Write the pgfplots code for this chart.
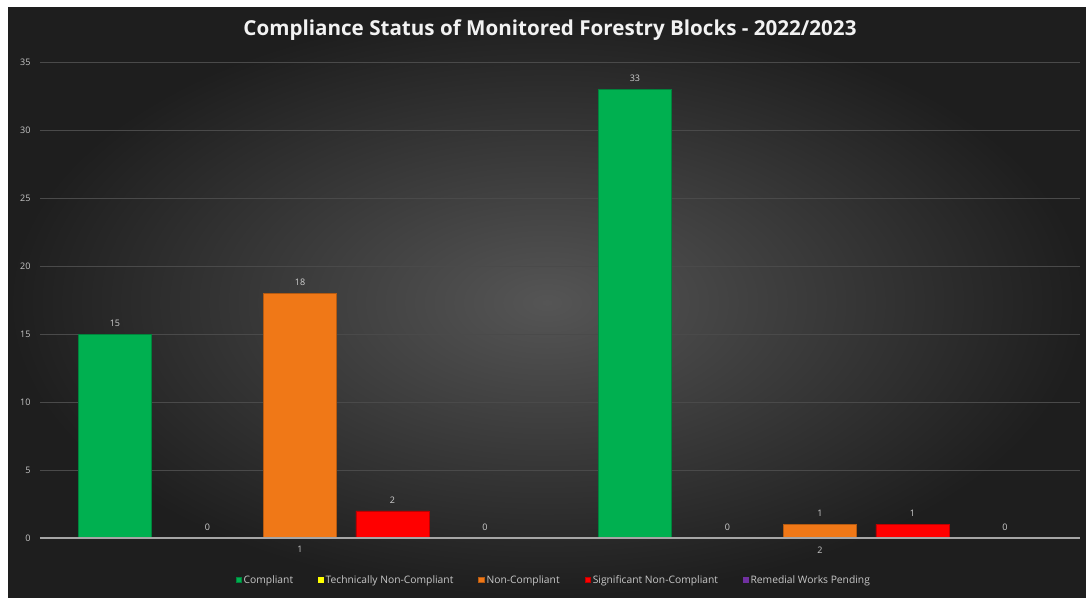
\documentclass[border=0pt]{standalone}
\usepackage{fontspec}
\setmainfont{Open Sans}
\usepackage{pgfplots}
\pgfplotsset{compat=1.18}
\definecolor{cgreen}{HTML}{00B050}
\definecolor{cyellow}{HTML}{FFFF00}
\definecolor{corange}{HTML}{F07817}
\definecolor{cred}{HTML}{FF0000}
\definecolor{cpurple}{HTML}{7030A0}
\definecolor{bgin}{HTML}{555555}
\definecolor{bgout}{HTML}{1E1E1E}
\definecolor{titlec}{HTML}{F2F2F2}
\definecolor{tickc}{HTML}{C8C8C8}
\definecolor{labc}{HTML}{D0D0D0}
\definecolor{gridc}{HTML}{4A4A4A}
\definecolor{axisgray}{HTML}{A6A6A6}
\begin{document}
\begin{tikzpicture}[x=1pt,y=1pt]
\fill[white] (0,0) rectangle (1086,597);
\fill[inner color=bgin, outer color=bgout] (8,0) rectangle (1086,589);
\node[font=\bfseries\fontsize{20.6}{24}\selectfont, text=titlec] at (550,567) {Compliance Status of Monitored Forestry Blocks - 2022/2023};
\begin{axis}[
  at={(40pt,59pt)}, anchor=south west,
  scale only axis, width=1040pt, height=476pt,
  xmin=0.5, xmax=2.5, ymin=0, ymax=35,
  xtick={1,2}, ytick={0,5,...,35},
  major tick length=0pt,
  axis line style={draw=none},
  ymajorgrids, grid style={gridc, line width=0.6pt},
  ybar=19.5pt, bar width=73pt,
  /pgf/number format/assume math mode=true,
  tick label style={font=\fontsize{9}{10}\selectfont, text=tickc},
  xticklabel style={yshift=-5pt},
  yticklabel style={xshift=-6pt},
  nodes near coords,
  every node near coord/.append style={font=\fontsize{9}{10}\selectfont, text=labc, yshift=4pt},
  legend image code/.code={\fill[#1] (0pt,-2.8pt) rectangle (5.5pt,2.8pt);},
  legend style={at={(0.494,-0.088)}, anchor=center, draw=none, fill=none,
    legend columns=-1, font=\fontsize{10.3}{12}\selectfont, text=tickc,
    /tikz/every even column/.append style={column sep=23pt}},
]
\addplot[fill=cgreen, draw=cgreen!75!black, line width=0.6pt] coordinates {(1,15) (2,33)};
\addlegendentry{Compliant}
\addplot[fill=cyellow, draw=none] coordinates {(1,0) (2,0)};
\addlegendentry{Technically Non-Compliant}
\addplot[fill=corange, draw=corange!75!black, line width=0.6pt] coordinates {(1,18) (2,1)};
\addlegendentry{Non-Compliant}
\addplot[fill=cred, draw=cred!75!black, line width=0.6pt] coordinates {(1,2) (2,1)};
\addlegendentry{Significant Non-Compliant}
\addplot[fill=cpurple, draw=none] coordinates {(1,0) (2,0)};
\addlegendentry{Remedial Works Pending}
\draw[axisgray, line width=1.5pt] (axis cs:0.5,0) -- (axis cs:2.5,0);
\end{axis}
\end{tikzpicture}
\end{document}
